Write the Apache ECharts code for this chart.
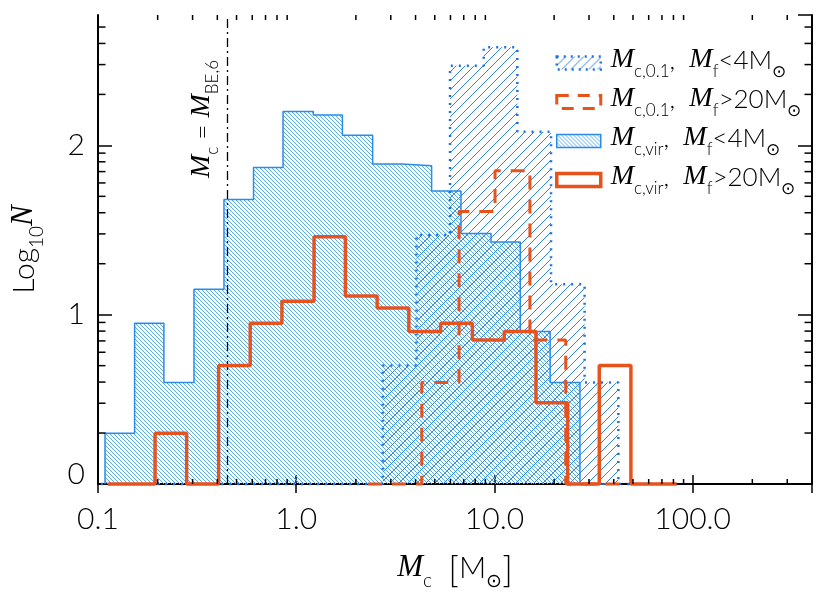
<!DOCTYPE html>
<html>
<head>
<meta charset="utf-8">
<script src="https://cdn.jsdelivr.net/npm/echarts@6/dist/echarts.min.js"></script>
<style>
html, body { margin: 0; padding: 0; background: #fff; }
#chart { width: 830px; height: 594px; }
</style>
</head>
<body>
<div id="chart"></div>
<script>
// bin edges in M_sun, and log10 N of each bin
var c01LowEdges = [0.086, 2.73, 4.04, 5.97, 8.83, 13.05, 19.3, 28.5, 42.2, 75.1];
var c01LowLogN = [0, 0.70, 1.47, 2.47, 2.58, 2.08, 1.18, 0.60, 0];

var c01HighEdges = [2.30, 4.30, 6.63, 10.07, 15.1, 22.9, 43.0];
var c01HighLogN = [0, 0.60, 1.61, 1.85, 0.85, 0];

var virLowEdges = [0.1085, 0.153, 0.215, 0.305, 0.432, 0.609, 0.858, 1.22, 1.71, 2.43, 3.42, 4.82, 6.78, 9.61, 13.5, 19.1, 27.0, 41.6];
var virLowLogN = [0.30, 0.95, 0.60, 1.15, 1.68, 1.87, 2.20, 2.18, 2.06, 1.89, 1.88, 1.73, 1.48, 1.43, 0.90, 0.60, 0];

var virHighEdges = [0.112, 0.194, 0.280, 0.406, 0.586, 0.847, 1.23, 1.77, 2.56, 3.70, 5.35, 7.74, 11.2, 16.2, 23.4, 33.8, 48.8, 83.1];
var virHighLogN = [0, 0.30, 0, 0.70, 0.95, 1.08, 1.46, 1.11, 1.04, 0.90, 0.95, 0.85, 0.90, 0.48, 0, 0.70, 0];

var mBE6 = 0.446;

// axis ticks
var xDecades = [0.1, 1, 10, 100];
var minorMult = [2, 3, 4, 5, 6, 7, 8, 9];
var yDecades = [0, 1, 2];
var xMax = 400, yMax = 2.77;

var legendText = {
    c01Low: '{i|M}{s|c,0.1}{n|,  }{i|M}{s|f}{n|<4M}{s|⊙}',
    c01High: '{i|M}{s|c,0.1}{n|,  }{i|M}{s|f}{n|>20M}{s|⊙}',
    virLow: '{i|M}{s|c,vir}{n|,  }{i|M}{s|f}{n|<4M}{s|⊙}',
    virHigh: '{i|M}{s|c,vir}{n|,  }{i|M}{s|f}{n|>20M}{s|⊙}'
};

var sans = 'Lato, "DejaVu Sans", sans-serif';
var serif = '"Liberation Serif", "DejaVu Serif", serif';
var blue = '#2a8be8';
var blueDot = '#1f72dc';
var red = '#e8531b';

function stepPoints(edges, logN) {
    var pts = [[edges[0], 0]];
    for (var i = 0; i < logN.length; i++) {
        pts.push([edges[i], logN[i]]);
        pts.push([edges[i + 1], logN[i]]);
    }
    pts.push([edges[edges.length - 1], 0]);
    return pts;
}

function hatch(size, color, width, dir) {
    var c = document.createElement('canvas');
    c.width = size;
    c.height = size;
    var g = c.getContext('2d');
    g.strokeStyle = color;
    g.lineWidth = width;
    g.beginPath();
    for (var k = -1; k <= 1; k++) {
        if (dir > 0) {
            g.moveTo(k * size, size);
            g.lineTo(k * size + size, 0);
        } else {
            g.moveTo(k * size, 0);
            g.lineTo(k * size + size, size);
        }
    }
    g.stroke();
    return { image: c, repeat: 'repeat' };
}

var fineHatch = hatch(4, '#55aaee', 1, -1);
var wideHatch = hatch(9, '#2f82e2', 1, 1);

var xMinorTicks = [];
xDecades.forEach(function (d) {
    minorMult.forEach(function (m) {
        if (m * d < xMax) xMinorTicks.push([m * d, 0]);
    });
});
var yMinorTicks = [];
yDecades.forEach(function (d) {
    minorMult.forEach(function (m) {
        var v = d + Math.log10(m);
        if (v < yMax) yMinorTicks.push([1, v]);
    });
});

var rich = {
    i: { fontFamily: serif, fontStyle: 'italic', fontSize: 28, color: '#000', verticalAlign: 'bottom', padding: [0, 0, 6, 0] },
    n: { fontFamily: sans, fontWeight: 300, fontSize: 26, color: '#000', verticalAlign: 'bottom', padding: [0, 0, 6, 0] },
    s: { fontFamily: sans, fontWeight: 300, fontSize: 17, color: '#000', verticalAlign: 'bottom' }
};
var richBig = {
    i: { fontFamily: serif, fontStyle: 'italic', fontSize: 31, color: '#000', verticalAlign: 'bottom', padding: [0, 0, 7, 0] },
    n: { fontFamily: sans, fontWeight: 300, fontSize: 30, color: '#000', verticalAlign: 'bottom', padding: [0, 0, 7, 0] },
    b: { fontFamily: sans, fontWeight: 300, fontSize: 36, color: '#000', verticalAlign: 'bottom', padding: [0, 0, 2, 0] },
    s: { fontFamily: sans, fontWeight: 300, fontSize: 19, color: '#000', verticalAlign: 'bottom' }
};

function tickSeries(data, isX) {
    return {
        type: 'custom',
        data: data,
        silent: true,
        z: 10,
        renderItem: function (params, api) {
            var cs = params.coordSys;
            var p = api.coord([api.value(0), api.value(1)]);
            var st = { stroke: '#000', lineWidth: 1.5 };
            if (isX) {
                return { type: 'group', children: [
                    { type: 'line', shape: { x1: p[0], y1: cs.y + cs.height, x2: p[0], y2: cs.y + cs.height - 5 }, style: st },
                    { type: 'line', shape: { x1: p[0], y1: cs.y, x2: p[0], y2: cs.y + 5 }, style: st }
                ] };
            }
            return { type: 'group', children: [
                { type: 'line', shape: { x1: cs.x, y1: p[1], x2: cs.x + 7.5, y2: p[1] }, style: st },
                { type: 'line', shape: { x1: cs.x + cs.width, y1: p[1], x2: cs.x + cs.width - 7.5, y2: p[1] }, style: st }
            ] };
        }
    };
}

var axisCommon = {
    axisLine: { show: true, lineStyle: { color: '#000', width: 2 } },
    splitLine: { show: false },
    minorTick: { show: false }
};

var chart = echarts.init(document.getElementById('chart'));
chart.setOption({
    animation: false,
    grid: { left: 98, right: 18, top: 15, bottom: 110, outerBoundsMode: 'none' },
    legend: {
        orient: 'vertical',
        left: 550,
        top: 41,
        itemWidth: 44,
        itemHeight: 13,
        itemGap: 5,
        selectedMode: false,
        formatter: function (name) { return legendText[name]; },
        textStyle: { rich: rich, padding: [0, 0, 0, 5] },
        data: [
            { name: 'c01Low', icon: 'rect', itemStyle: { color: wideHatch, borderColor: blueDot, borderWidth: 2.5, borderType: [2, 5] } },
            { name: 'c01High', icon: 'rect', itemStyle: { color: '#fff', borderColor: red, borderWidth: 3, borderType: [12, 9] } },
            { name: 'virLow', icon: 'rect', itemStyle: { color: fineHatch, borderColor: blue, borderWidth: 1.5 } },
            { name: 'virHigh', icon: 'rect', itemStyle: { color: '#fff', borderColor: red, borderWidth: 3.5 } }
        ]
    },
    xAxis: [
        Object.assign({
            type: 'log', logBase: 10, min: 0.1, max: xMax, splitNumber: 4,
            axisTick: { inside: true, length: 9, lineStyle: { color: '#000', width: 1.5 } },
            axisLabel: {
                margin: 20, fontFamily: sans, fontWeight: 300, fontSize: 30, color: '#000',
                showMaxLabel: false,
                formatter: function (v) { return v.toFixed(1); }
            },
            name: '{i|M}{s|c}{n|  }{b|[}{n|M}{s|⊙}{b|]}',
            nameLocation: 'middle',
            nameGap: 68,
            nameTextStyle: { rich: richBig }
        }, axisCommon),
        Object.assign({
            type: 'log', logBase: 10, min: 0.1, max: xMax, splitNumber: 4, position: 'top',
            axisTick: { inside: true, length: 9, lineStyle: { color: '#000', width: 1.5 } },
            axisLabel: { show: false }
        }, axisCommon)
    ],
    yAxis: [
        Object.assign({
            type: 'value', min: 0, max: yMax, interval: 1,
            axisTick: { inside: true, length: 14, lineStyle: { color: '#000', width: 1.5 } },
            axisLabel: {
                margin: 13, fontFamily: sans, fontWeight: 300, fontSize: 30, color: '#000',
                showMaxLabel: false,
                formatter: function (v) { return v === 0 ? '{z|0}' : String(v); },
                rich: { z: { fontFamily: sans, fontWeight: 300, fontSize: 30, color: '#000', padding: [0, 0, 20, 0] } }
            },
            name: '{n|Log}{s|10}{i|N}',
            nameLocation: 'middle',
            nameRotate: 90,
            nameGap: 52,
            nameTextStyle: { rich: richBig }
        }, axisCommon),
        Object.assign({
            type: 'value', min: 0, max: yMax, interval: 1, position: 'right',
            axisTick: { inside: true, length: 14, lineStyle: { color: '#000', width: 1.5 } },
            axisLabel: { show: false }
        }, axisCommon)
    ],
    series: [
        {
            name: 'virLow', type: 'line', data: stepPoints(virLowEdges, virLowLogN),
            symbol: 'none', clip: false, z: 2, silent: true,
            lineStyle: { color: blue, width: 1.5 },
            areaStyle: { color: fineHatch, opacity: 1, origin: 'start' }
        },
        {
            name: 'c01Low', type: 'line', data: stepPoints(c01LowEdges, c01LowLogN),
            symbol: 'none', clip: false, z: 3, silent: true,
            lineStyle: { color: blueDot, width: 2.5, type: [2, 6] },
            areaStyle: { color: wideHatch, opacity: 1, origin: 'start' }
        },
        {
            name: 'c01High', type: 'line', data: stepPoints(c01HighEdges, c01HighLogN),
            symbol: 'none', clip: false, z: 4, silent: true,
            lineStyle: { color: red, width: 3, type: [14, 10] }
        },
        {
            name: 'virHigh', type: 'line', data: stepPoints(virHighEdges, virHighLogN),
            symbol: 'none', clip: false, z: 5, silent: true,
            lineStyle: { color: red, width: 3.5 },
            markLine: {
                silent: true,
                symbol: ['none', 'none'],
                lineStyle: { color: '#000', width: 1.3, type: [9, 4, 2, 4] },
                label: {
                    show: true,
                    position: 'insideEndTop',
                    distance: [45, 6],
                    formatter: '{i|M}{s|c}{n| = }{i|M}{s|BE,6}',
                    rich: rich
                },
                data: [{ xAxis: mBE6 }]
            }
        },
        tickSeries(xMinorTicks, true),
        tickSeries(yMinorTicks, false)
    ]
});
</script>
</body>
</html>
